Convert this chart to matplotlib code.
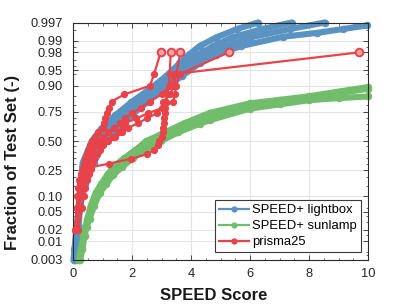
import math
import numpy as np
import matplotlib
matplotlib.use("Agg")
import matplotlib.pyplot as plt
from matplotlib.lines import Line2D
from matplotlib.ticker import FixedLocator

plt.rcParams['font.family'] = ['Liberation Sans', 'DejaVu Sans']

# ---------------- data ----------------
x_ticks = [0, 2, 4, 6, 8, 10]
y_ticks = [0.003, 0.01, 0.02, 0.05, 0.10, 0.25, 0.50, 0.75, 0.90, 0.95, 0.98, 0.99, 0.997]
y_tick_labels = ['0.003', '0.01', '0.02', '0.05', '0.10', '0.25', '0.50', '0.75',
                 '0.90', '0.95', '0.98', '0.99', '0.997']
y_minor = [0.004, 0.005, 0.015, 0.03, 0.04, 0.06, 0.15, 0.2, 0.3, 0.35, 0.4, 0.45,
           0.55, 0.6, 0.65, 0.7, 0.8, 0.85, 0.94, 0.96, 0.97, 0.985, 0.995]
legend_labels = ['SPEED+ lightbox', 'SPEED+ sunlamp', 'prisma25']

# SPEED+ lightbox (several curves forming a band)
blue_p = [0.003, 0.0062, 0.0228, 0.0668, 0.1587, 0.3085, 0.5, 0.6179, 0.7257, 0.8159,
          0.8849, 0.9332, 0.9641, 0.9772, 0.9861, 0.9918, 0.9953, 0.997]
b1_x = [0.017, 0.05, 0.12, 0.21, 0.25, 0.33, 0.64, 0.97, 1.44, 1.98, 2.59, 3.15, 3.61,
        3.92, 4.29, 4.85, 5.56, 6.28]
b2_x = [0.04, 0.075, 0.14, 0.22, 0.31, 0.46, 0.79, 1.15, 1.62, 2.16, 2.75, 3.33, 3.84,
        4.23, 4.76, 5.39, 6.41, 7.41]
b3_x = [0.06, 0.095, 0.17, 0.23, 0.36, 0.58, 0.94, 1.33, 1.81, 2.33, 2.91, 3.50, 4.06,
        4.54, 5.23, 6.0, 7.36, 8.54]
b4_x = [0.085, 0.12, 0.19, 0.24, 0.42, 0.71, 1.08, 1.51, 1.99, 2.51, 3.06, 3.68, 4.29,
        4.85, 5.69, 7.13, 8.26, 9.16, 9.95]
b4_p = [0.003, 0.0062, 0.0228, 0.0668, 0.1587, 0.3085, 0.5, 0.6179, 0.7257, 0.8159,
        0.8849, 0.9332, 0.9641, 0.9772, 0.9861, 0.9922, 0.9939, 0.9953, 0.9963]

# SPEED+ sunlamp
g1_x = [0.19, 0.27, 0.35, 0.41, 0.49, 0.60, 0.77, 0.95, 1.15, 1.36, 1.73, 2.13, 2.49,
        3.12, 3.73, 4.64, 6.0, 7.0, 8.0, 9.0, 10.0]
g1_p = [0.003, 0.0062, 0.0139, 0.0228, 0.0359, 0.0668, 0.1151, 0.1587, 0.2119, 0.2743,
        0.3446, 0.4207, 0.5, 0.5793, 0.6554, 0.743, 0.809, 0.830, 0.850, 0.874, 0.894]
g2_x = [0.21, 0.30, 0.37, 0.43, 0.52, 0.66, 0.84, 1.04, 1.24, 1.52, 1.87, 2.29, 2.73,
        3.34, 4.01, 4.64, 6.0, 7.0, 8.0, 9.0, 10.0]
g2_p = [0.003, 0.0062, 0.0139, 0.0228, 0.0359, 0.0668, 0.1151, 0.1587, 0.2119, 0.2743,
        0.3446, 0.4207, 0.5, 0.5793, 0.6554, 0.714, 0.792, 0.816, 0.839, 0.866, 0.887]
g3_x = [0.24, 0.32, 0.39, 0.46, 0.56, 0.72, 0.91, 1.13, 1.34, 1.67, 2.02, 2.46, 2.98,
        3.57, 4.29, 4.64, 6.0, 7.0, 8.0, 9.0, 10.0]
g3_p = [0.003, 0.0062, 0.0139, 0.0228, 0.0359, 0.0668, 0.1151, 0.1587, 0.2119, 0.2743,
        0.3446, 0.4207, 0.5, 0.5793, 0.6554, 0.685, 0.774, 0.802, 0.828, 0.840, 0.849]

# prisma25 (25 test images, several methods)
red_p = [0.02, 0.06, 0.10, 0.14, 0.18, 0.22, 0.26, 0.30, 0.34, 0.38, 0.42, 0.46, 0.50,
         0.54, 0.58, 0.62, 0.66, 0.70, 0.74, 0.78, 0.82, 0.86, 0.90, 0.94, 0.98]
r1_x = [0.10, 0.14, 0.18, 0.22, 0.26, 0.30, 0.34, 0.38, 0.42, 0.47, 0.52, 0.58, 0.64,
        0.74, 0.86, 1.03, 1.06, 1.09, 1.15, 1.22, 1.31, 1.74, 2.61, 2.75, 2.97]
r2_x = [0.07, 0.12, 0.15, 0.18, 0.22, 0.27, 0.34, 1.22, 1.97, 2.51, 2.75, 2.88, 2.92,
        3.02, 3.04, 3.06, 3.08, 3.10, 3.11, 3.12, 3.15, 3.20, 3.24, 3.28, 3.31]
r3_x = [0.18, 0.30, 0.36, 0.42, 0.48, 0.55, 0.60, 0.66, 0.72, 0.80, 0.92, 1.03, 1.20,
        1.42, 1.65, 1.87, 2.20, 2.50, 2.84, 3.00, 3.06, 3.30, 3.42, 3.50, 3.64]
r4_x = [0.12, 0.20, 0.26, 0.31, 0.36, 0.40, 0.44, 0.48, 0.53, 0.58, 0.66, 0.78, 1.00,
        1.35, 1.55, 1.70, 1.76, 2.15, 2.54, 3.05, 3.40, 3.45, 3.50, 3.62, 5.28]
r5_x = [0.08, 0.17, 0.23, 0.28, 0.33, 0.37, 0.42, 0.46, 0.50, 0.55, 0.62, 0.72, 0.88,
        1.03, 1.20, 1.40, 1.60, 1.75, 2.00, 2.30, 2.60, 3.00, 3.30, 3.45, 9.68]

# ---------------- normal probability scale ----------------
_erf = np.vectorize(math.erf, otypes=[float])


def _ppf(p):
    arr = np.asarray(p, dtype=float)
    shape = arr.shape
    q0 = np.clip(arr.ravel(), 1e-12, 1 - 1e-12)
    a = [-3.969683028665376e+01, 2.209460984245205e+02, -2.759285104469687e+02,
         1.383577518672690e+02, -3.066479806614716e+01, 2.506628277459239e+00]
    b = [-5.447609879822406e+01, 1.615858368580409e+02, -1.556989798598866e+02,
         6.680131188771972e+01, -1.328068155288572e+01]
    c = [-7.784894002430293e-03, -3.223964580411365e-01, -2.400758277161838e+00,
         -2.549732539343734e+00, 4.374664141464968e+00, 2.938163982698783e+00]
    d = [7.784695709041462e-03, 3.224671290700398e-01, 2.445134137142996e+00,
         3.754408661907416e+00]
    plow = 0.02425
    out = np.empty_like(q0)
    lo = q0 < plow
    hi = q0 > 1 - plow
    mid = ~(lo | hi)
    q = np.sqrt(-2 * np.log(q0[lo]))
    out[lo] = (((((c[0]*q + c[1])*q + c[2])*q + c[3])*q + c[4])*q + c[5]) / \
        ((((d[0]*q + d[1])*q + d[2])*q + d[3])*q + 1)
    q = q0[mid] - 0.5
    r = q * q
    out[mid] = (((((a[0]*r + a[1])*r + a[2])*r + a[3])*r + a[4])*r + a[5])*q / \
        (((((b[0]*r + b[1])*r + b[2])*r + b[3])*r + b[4])*r + 1)
    q = np.sqrt(-2 * np.log(1 - q0[hi]))
    out[hi] = -(((((c[0]*q + c[1])*q + c[2])*q + c[3])*q + c[4])*q + c[5]) / \
        ((((d[0]*q + d[1])*q + d[2])*q + d[3])*q + 1)
    return out.reshape(shape)


def _cdf(z):
    z = np.asarray(z, dtype=float)
    return 0.5 * (1 + _erf(z / math.sqrt(2)))


# ---------------- figure ----------------
W, H = 407, 305
fig = plt.figure(figsize=(W / 100, H / 100), dpi=100)
ax = fig.add_axes([73 / W, 1 - 259.5 / H, (368 - 73) / W, (259.5 - 22.5) / H])
ax.set_yscale('function', functions=(_ppf, _cdf))

BLUE = '#5a93c2'
GREEN = '#72bd6c'
RED = '#e8424a'

band_lw = 4.4
band_ms = 4.4
for xs, ps in [(b1_x, blue_p), (b2_x, blue_p), (b3_x, blue_p), (b4_x, b4_p)]:
    ax.plot(xs, ps, '-o', color=BLUE, lw=band_lw, ms=band_ms, mec=BLUE,
            solid_capstyle='round', solid_joinstyle='round', clip_on=False, zorder=2)
for xs, ps in [(g1_x, g1_p), (g2_x, g2_p), (g3_x, g3_p)]:
    ax.plot(xs, ps, '-o', color=GREEN, lw=band_lw, ms=band_ms, mec=GREEN,
            solid_capstyle='round', solid_joinstyle='round', clip_on=False, zorder=2)
for xs in [r1_x, r2_x, r3_x, r4_x, r5_x]:
    ax.plot(xs, red_p, '-o', color=RED, lw=1.6, ms=4.2, mec=RED, zorder=3,
            clip_on=False)
    ax.plot(xs[-1], red_p[-1], 'o', ms=5.5, mfc='#f3a3a6', mec=RED, mew=1.4,
            zorder=4, clip_on=False)

ax.set_xlim(0, 10)
ax.set_ylim(0.003, 0.997)
ax.set_xticks(x_ticks)
ax.set_xticklabels([str(v) for v in x_ticks])
ax.xaxis.set_minor_locator(FixedLocator(np.arange(0, 10.01, 0.5)))
ax.set_yticks(y_ticks)
ax.set_yticklabels(y_tick_labels)
ax.yaxis.set_minor_locator(FixedLocator(y_minor))

ax.grid(True, which='major', color='#e4e4e4', lw=0.8)
ax.set_axisbelow(True)
for s in ax.spines.values():
    s.set_color('#2b2b2b')
    s.set_linewidth(0.8)
ax.tick_params(which='both', direction='in', top=True, right=True,
               color='#2b2b2b', labelcolor='#262626', labelsize=9.3)
ax.tick_params(which='major', length=3.5, width=0.6)
ax.tick_params(which='minor', length=1.8, width=0.5)
ax.tick_params(axis='y', pad=7.5)
ax.tick_params(axis='x', pad=6)

ax.set_xlabel('SPEED Score', fontsize=12, fontweight='bold', color='#1a1a1a')
ax.set_ylabel('Fraction of Test Set (-)', fontsize=12, fontweight='bold', color='#1a1a1a')
ax.xaxis.set_label_coords((214 - 73) / 295, (259.5 - 287.5) / 237)
ax.yaxis.set_label_coords((20 - 73) / 295, (259.5 - 162) / 237)

handles = [Line2D([], [], color=c, lw=1.6, marker='o', ms=3.5)
           for c in (BLUE, GREEN, RED)]
leg = ax.legend(handles, legend_labels, loc='lower right', fontsize=9.4,
                frameon=True, fancybox=False, framealpha=1, edgecolor='#3a3a3a',
                handlelength=2.3, handletextpad=0.25, borderpad=0.3,
                labelspacing=0.3, borderaxespad=0.55)
leg.get_frame().set_linewidth(0.8)

fig.savefig('out.png', dpi=100)
